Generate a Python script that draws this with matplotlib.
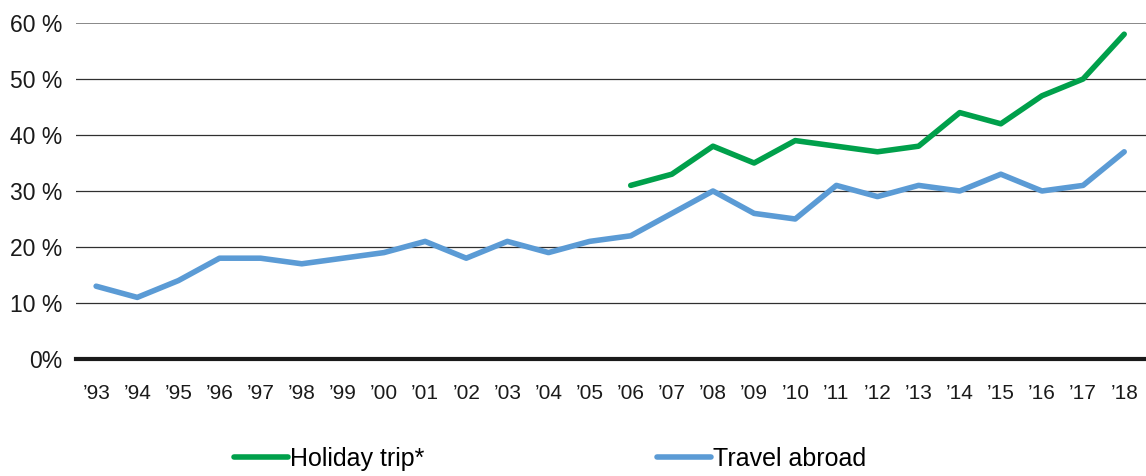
import matplotlib
matplotlib.use("Agg")
import matplotlib.pyplot as plt
from matplotlib.ticker import FuncFormatter

plt.rcParams['font.family'] = ['Liberation Sans', 'DejaVu Sans']

years = ["’93", "’94", "’95", "’96", "’97", "’98", "’99", "’00", "’01", "’02",
         "’03", "’04", "’05", "’06", "’07", "’08", "’09", "’10", "’11", "’12",
         "’13", "’14", "’15", "’16", "’17", "’18"]

travel_abroad = [13, 11, 14, 18, 18, 17, 18, 19, 21, 18, 21, 19, 21, 22, 26, 30,
                 26, 25, 31, 29, 31, 30, 33, 30, 31, 37]

# holiday trip only measured from '06 on
holiday_start = 13
holiday_trip = [31, 33, 38, 35, 39, 38, 37, 38, 44, 42, 47, 50, 58]

GREEN = "#00a04b"
BLUE = "#5b9bd5"

fig = plt.figure(figsize=(11.46, 4.76), dpi=100)
ax = fig.add_axes([0.0663, 0.2458, 0.9337, 0.7059])

x = list(range(len(years)))
ax.plot(x[holiday_start:], holiday_trip, color=GREEN, lw=4, solid_capstyle="round",
        label="Holiday trip*")
ax.plot(x, travel_abroad, color=BLUE, lw=4, solid_capstyle="round",
        label="Travel abroad")

ax.set_xlim(-0.49, 25.53)
ax.set_ylim(0, 60)
ax.set_yticks(range(0, 61, 10))
ax.yaxis.set_major_formatter(FuncFormatter(lambda v, p: "0%" if v == 0 else f"{int(v)} %"))
ax.set_xticks(x)
ax.set_xticklabels(years)

for v in range(10, 61, 10):
    ax.axhline(v, color="#7f7f7f" if v == 60 else "#303030", lw=1.3 if v == 60 else 0.9,
               zorder=0)
ax.axhline(0, color="#1a1a1a", lw=3, zorder=3, clip_on=False)

for s in ax.spines.values():
    s.set_visible(False)
ax.tick_params(axis="both", length=0, colors="#1a1a1a")
ax.tick_params(axis="x", pad=18, labelsize=15)
ax.tick_params(axis="y", pad=10, labelsize=16.5)

fig.legend(loc="center", bbox_to_anchor=(0.48, 0.036), ncol=2, frameon=False,
           fontsize=18, handlelength=2.15, handletextpad=0.08, columnspacing=9.3)

fig.savefig("out.png", dpi=100)
